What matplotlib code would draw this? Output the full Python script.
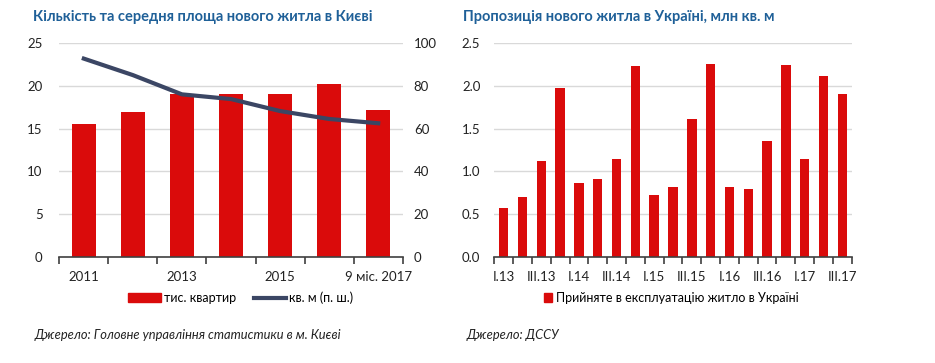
import numpy as np
import matplotlib
matplotlib.use("Agg")
import matplotlib.pyplot as plt
from matplotlib.patches import Patch
from matplotlib.lines import Line2D

plt.rcParams["font.family"] = ["Lato", "Open Sans", "DejaVu Sans"]

RED = "#DA0B0B"
NAVY = "#3B4664"
BLUE = "#1F6098"
GRID = "#D9D9D9"

# left chart: Kyiv
years = ["2011", "2012", "2013", "2014", "2015", "2016", "9 міс. 2017"]
flats_k = [15.5, 16.9, 19.0, 19.0, 19.1, 20.2, 17.2]
avg_area = [92.7, 85.0, 76.0, 73.8, 68.2, 64.5, 62.5]

# right chart: Ukraine, quarterly
quarters = ["I.13", "II.13", "III.13", "IV.13", "I.14", "II.14", "III.14", "IV.14",
            "I.15", "II.15", "III.15", "IV.15", "I.16", "II.16", "III.16", "IV.16",
            "I.17", "II.17", "III.17"]
supply = [0.57, 0.70, 1.12, 1.97, 0.87, 0.91, 1.14, 2.23, 0.72, 0.82, 1.61, 2.26,
          0.82, 0.80, 1.36, 2.24, 1.14, 2.12, 1.90]

W, H = 935, 363
fig = plt.figure(figsize=(W / 100, H / 100), dpi=100)
TICK_FS = 9.5


def px(x0, y0, x1, y1):
    return [x0 / W, 1 - y1 / H, (x1 - x0) / W, (y1 - y0) / H]


def style_axis(ax, n):
    for s in ["left", "right", "top"]:
        ax.spines[s].set_visible(False)
    ax.spines["bottom"].set_color("#404040")
    ax.spines["bottom"].set_linewidth(1.2)
    ax.set_xlim(-0.5, n - 0.5)
    ax.yaxis.grid(True, color=GRID, linewidth=1)
    ax.set_axisbelow(True)
    ax.tick_params(axis="y", length=0, labelsize=TICK_FS, colors="#222222")
    ax.tick_params(axis="x", which="major", length=0, pad=10, labelsize=TICK_FS, colors="#222222")
    ax.set_xticks(np.arange(-0.5, n, 1.0), minor=True)
    ax.tick_params(axis="x", which="minor", length=5, width=1.2, color="#404040")


# left
ax1 = fig.add_axes(px(59.3, 43, 402.7, 257))
x1 = np.arange(len(years))
ax1.bar(x1, flats_k, width=0.5, color=RED)
style_axis(ax1, len(years))
ax1.set_ylim(0, 25)
ax1.set_yticks(np.arange(0, 26, 5))
ax1.tick_params(axis="y", pad=12)
ax1.set_xticks(x1[::2])
ax1.set_xticklabels(years[::2])
ax1b = ax1.twinx()
ax1b.plot(x1, avg_area, color=NAVY, linewidth=3)
ax1b.set_ylim(0, 100)
ax1b.set_yticks(np.arange(0, 101, 20))
for s in ["left", "right", "top", "bottom"]:
    ax1b.spines[s].set_visible(False)
ax1b.tick_params(axis="y", length=0, pad=8, labelsize=TICK_FS, colors="#222222")
ax1.legend(handles=[Patch(color=RED, label="тис. квартир"),
                    Line2D([], [], color=NAVY, linewidth=3, label="кв. м (п. ш.)")],
           loc="center", bbox_to_anchor=(0.529, -0.19), ncol=2, frameon=False,
           fontsize=9, handlelength=2.6, handletextpad=0.25, columnspacing=1.4)

# right
ax2 = fig.add_axes(px(494.3, 43, 851.7, 257))
x2 = np.arange(len(quarters))
ax2.bar(x2, supply, width=0.5, color=RED)
style_axis(ax2, len(quarters))
ax2.set_ylim(0, 2.5)
ax2.set_yticks(np.arange(0, 2.51, 0.5))
ax2.set_yticklabels([f"{v:.1f}" for v in np.arange(0, 2.51, 0.5)])
ax2.tick_params(axis="y", pad=10)
ax2.set_xticks(x2[::2])
ax2.set_xticklabels(quarters[::2])
ax2.legend(handles=[Patch(color=RED, label="Прийняте в експлуатацію житло в Україні")],
           loc="center", bbox_to_anchor=(0.495, -0.19), frameon=False,
           fontsize=9, handlelength=0.7, handleheight=0.7, handletextpad=0.3)

# titles and sources
fig.text(33 / W, 1 - 17 / H, "Кількість та середня площа нового житла в Києві",
         fontsize=10.5, fontweight="bold", color=BLUE, va="center", ha="left")
fig.text(463 / W, 1 - 17 / H, "Пропозиція нового житла в Україні, млн кв. м",
         fontsize=10.5, fontweight="bold", color=BLUE, va="center", ha="left")
fig.text(35 / W, 1 - 335 / H, "Джерело: Головне управління статистики в м. Києві",
         fontsize=9.3, style="italic", color="#222222", va="center", ha="left")
fig.text(467 / W, 1 - 335 / H, "Джерело: ДССУ",
         fontsize=9.3, style="italic", color="#222222", va="center", ha="left")

fig.savefig("out.png", dpi=100)
